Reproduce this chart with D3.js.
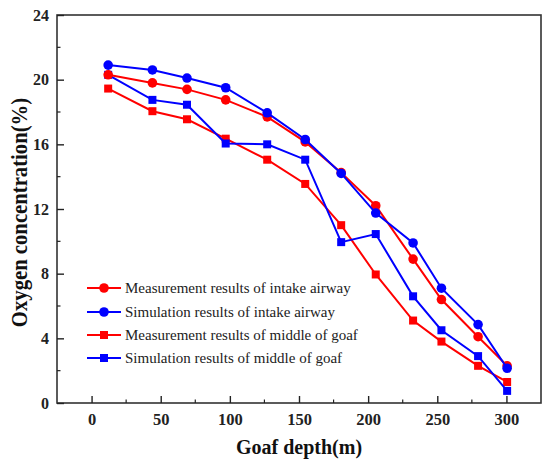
<!DOCTYPE html>
<html>
<head>
<meta charset="utf-8">
<script src="https://cdn.jsdelivr.net/npm/d3@7"></script>
</head>
<body style="margin:0; background:#fff">
<div id="chart"></div>
<script>
// Goaf depth (m) of each sampling point
const depth = [12, 44, 69, 97, 127, 154.5, 180.5, 205.5, 232.5, 253, 279.5, 300.5];

// Oxygen concentration (%) per series
const measIntake = [20.3, 19.8, 19.4, 18.75, 17.7, 16.15, 14.25, 12.2, 8.9, 6.4, 4.1, 2.3];
const simIntake  = [20.9, 20.6, 20.1, 19.5, 17.95, 16.3, 14.2, 11.75, 9.9, 7.1, 4.85, 2.15];
const measMiddle = [19.45, 18.05, 17.55, 16.35, 15.05, 13.55, 11.0, 7.95, 5.1, 3.8, 2.3, 1.3];
const simMiddle  = [20.3, 18.75, 18.45, 16.05, 16.0, 15.05, 9.95, 10.45, 6.6, 4.5, 2.9, 0.75];

const seriesNames = [
  "Measurement results of intake airway",
  "Simulation results of intake airway",
  "Measurement results of middle of goaf",
  "Simulation results of middle of goaf"
];

const xTicks = [0, 50, 100, 150, 200, 250, 300];
const yTicks = [0, 4, 8, 12, 16, 20, 24];

const series = [
  {name: seriesNames[0], values: measIntake, color: "#ff0000", shape: "circle"},
  {name: seriesNames[1], values: simIntake,  color: "#0000ff", shape: "circle"},
  {name: seriesNames[2], values: measMiddle, color: "#ff0000", shape: "square"},
  {name: seriesNames[3], values: simMiddle,  color: "#0000ff", shape: "square"}
];

const FONT = "'Liberation Serif', 'Times New Roman', serif";

const W = 550, H = 470;
const margin = {top: 15, right: 9, bottom: 67, left: 57};
const width = W - margin.left - margin.right,
      height = H - margin.top - margin.bottom;

const svg = d3.select("#chart")
  .append("svg")
    .attr("width", W)
    .attr("height", H);

const g = svg.append("g")
  .attr("transform", `translate(${margin.left}, ${margin.top})`);

const xScale = d3.scaleLinear().domain([-25, 325]).range([0, width]);
const yScale = d3.scaleLinear().domain([0, 24]).range([height, 0]);

// frame
g.append("rect")
  .attr("width", width)
  .attr("height", height)
  .attr("fill", "none")
  .attr("stroke", "#333")
  .attr("stroke-width", 1.6);

// x axis, ticks pointing inward
const xAxis = g.append("g")
  .attr("transform", `translate(0, ${height})`)
  .call(d3.axisBottom(xScale).tickValues(xTicks).tickSize(-7).tickPadding(10))
  .call(a => a.select(".domain").remove());
xAxis.selectAll("line").attr("stroke", "#222").attr("stroke-width", 1.4);
xAxis.selectAll("text")
  .style("font-family", FONT).style("font-size", "16.5px").style("font-weight", "bold")
  .attr("fill", "#222");

g.append("g")
  .attr("transform", `translate(0, ${height})`)
  .selectAll("line")
  .data(d3.range(-25, 326, 50).filter(v => v > -25 && v < 325))
  .join("line")
    .attr("x1", d => xScale(d)).attr("x2", d => xScale(d))
    .attr("y1", 0).attr("y2", -3.5)
    .attr("stroke", "#222").attr("stroke-width", 1.2);

// y axis
const yAxis = g.append("g")
  .call(d3.axisLeft(yScale).tickValues(yTicks).tickSize(-7).tickPadding(8))
  .call(a => a.select(".domain").remove());
yAxis.selectAll("line").attr("stroke", "#222").attr("stroke-width", 1.4);
yAxis.selectAll("text")
  .style("font-family", FONT).style("font-size", "16px").style("font-weight", "bold")
  .attr("fill", "#222");

g.append("g")
  .selectAll("line")
  .data(d3.range(2, 24, 4))
  .join("line")
    .attr("x1", 0).attr("x2", 3.5)
    .attr("y1", d => yScale(d)).attr("y2", d => yScale(d))
    .attr("stroke", "#222").attr("stroke-width", 1.2);

// axis titles
svg.append("text")
  .attr("x", margin.left + width / 2)
  .attr("y", 454)
  .attr("text-anchor", "middle")
  .style("font-family", FONT).style("font-size", "20px").style("font-weight", "bold")
  .attr("fill", "#111")
  .text("Goaf depth(m)");

svg.append("text")
  .attr("transform", "translate(27, 212.5) scale(1.15, 1) rotate(-90)")
  .attr("text-anchor", "middle")
  .style("font-family", FONT).style("font-size", "20.7px").style("font-weight", "bold")
  .attr("fill", "#111")
  .text("Oxygen concentration(%)");

function drawMarker(sel, shape, color, x, y) {
  if (shape === "circle") {
    sel.append("circle")
      .attr("cx", x).attr("cy", y).attr("r", 4.8)
      .attr("fill", color);
  } else {
    sel.append("rect")
      .attr("x", x - 4).attr("y", y - 4)
      .attr("width", 8).attr("height", 8)
      .attr("fill", color);
  }
}

// draw order: squares first, then circles
const drawOrder = [2, 3, 0, 1];
const line = d3.line()
  .x(d => xScale(d[0]))
  .y(d => yScale(d[1]));

drawOrder.forEach(i => {
  const s = series[i];
  const pts = depth.map((d, j) => [d, s.values[j]]);
  const sg = g.append("g");
  sg.append("path")
    .datum(pts)
    .attr("d", line)
    .attr("fill", "none")
    .attr("stroke", s.color)
    .attr("stroke-width", 2);
  pts.forEach(p => drawMarker(sg, s.shape, s.color, xScale(p[0]), yScale(p[1])));
});

// legend
const legend = svg.append("g");
const legendRows = [288, 312, 335, 358];
series.forEach((s, i) => {
  const y = legendRows[i];
  const lg = legend.append("g");
  lg.append("line")
    .attr("x1", 87).attr("x2", 121)
    .attr("y1", y).attr("y2", y)
    .attr("stroke", s.color).attr("stroke-width", 2);
  drawMarker(lg, s.shape, s.color, 104, y);
  lg.append("text")
    .attr("x", 125).attr("y", y + 5)
    .style("font-family", FONT).style("font-size", "15px")
    .attr("fill", "#222")
    .text(s.name);
});
</script>
</body>
</html>
